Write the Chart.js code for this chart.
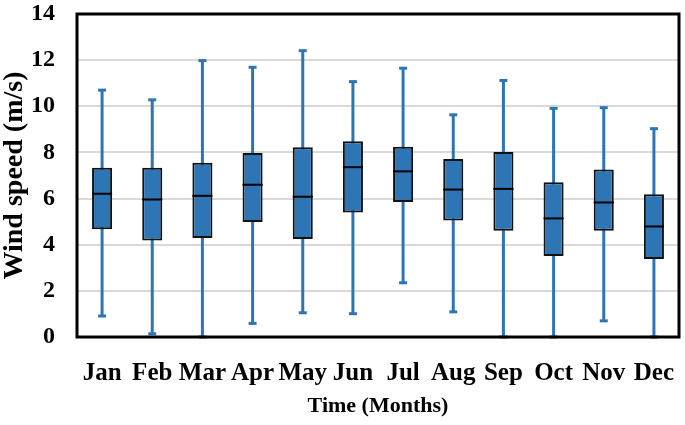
<!DOCTYPE html>
<html>
<head>
<meta charset="utf-8">
<script src="https://cdn.jsdelivr.net/npm/chart.js@4"></script>
<style>
  body { margin: 0; background: #fff; }
  canvas { display: block; }
</style>
</head>
<body>
<canvas id="chart" width="685" height="425"></canvas>
<script>
// monthly wind speed box plot values (m/s)
const months = ["Jan", "Feb", "Mar", "Apr", "May", "Jun", "Jul", "Aug", "Sep", "Oct", "Nov", "Dec"];
const whiskerLow = [0.91, 0.14, 0, 0.59, 1.05, 1.01, 2.35, 1.09, 0, 0, 0.70, 0];
const q1 = [4.67, 4.18, 4.29, 4.98, 4.25, 5.40, 5.85, 5.05, 4.61, 3.51, 4.61, 3.38];
const medians = [6.21, 5.96, 6.12, 6.60, 6.08, 7.36, 7.18, 6.39, 6.42, 5.14, 5.83, 4.79];
const q3 = [7.34, 7.34, 7.55, 7.98, 8.22, 8.48, 8.25, 7.72, 8.02, 6.71, 7.26, 6.19];
const whiskerHigh = [10.70, 10.28, 11.98, 11.69, 12.41, 11.07, 11.65, 9.63, 11.12, 9.91, 9.94, 9.03];
const yTicks = [0, 2, 4, 6, 8, 10, 12, 14];

const blue = "#2e75b6";
const serif = "'Liberation Serif', 'Times New Roman', serif";

// whiskers behind the boxes, medians on top, frame around the plot
const boxPlotExtras = {
    id: "boxPlotExtras",
    beforeDatasetsDraw(chart) {
        const ctx = chart.ctx;
        const y = chart.scales.y;
        const bars = chart.getDatasetMeta(0).data;
        ctx.save();
        ctx.strokeStyle = blue;
        ctx.fillStyle = blue;
        ctx.lineWidth = 3;
        bars.forEach((bar, i) => {
            const top = y.getPixelForValue(whiskerHigh[i]);
            const bottom = y.getPixelForValue(whiskerLow[i]);
            ctx.beginPath();
            ctx.moveTo(bar.x, top);
            ctx.lineTo(bar.x, bottom);
            ctx.stroke();
            ctx.fillRect(bar.x - 4, top - 1.5, 8, 3);
            ctx.fillRect(bar.x - 4, bottom - 1.5, 8, 3);
        });
        ctx.restore();
    },
    afterDatasetsDraw(chart) {
        const ctx = chart.ctx;
        const y = chart.scales.y;
        const bars = chart.getDatasetMeta(0).data;
        ctx.save();
        ctx.strokeStyle = "#000";
        ctx.lineWidth = 2;
        bars.forEach((bar, i) => {
            const my = y.getPixelForValue(medians[i]);
            ctx.beginPath();
            ctx.moveTo(bar.x - bar.width / 2, my);
            ctx.lineTo(bar.x + bar.width / 2, my);
            ctx.stroke();
        });
        ctx.restore();
    },
    afterDraw(chart) {
        const a = chart.chartArea;
        const ctx = chart.ctx;
        ctx.save();
        ctx.strokeStyle = "#000";
        ctx.lineWidth = 3;
        ctx.strokeRect(a.left, a.top, a.right - a.left, a.bottom - a.top);
        ctx.restore();
    }
};

new Chart(document.getElementById("chart"), {
    type: "bar",
    data: {
        labels: months,
        datasets: [{
            data: months.map((m, i) => [q1[i], q3[i]]),
            backgroundColor: blue,
            borderColor: "#111",
            borderWidth: 2,
            borderSkipped: false,
            barPercentage: 0.4,
            categoryPercentage: 1
        }]
    },
    options: {
        responsive: false,
        animation: false,
        layout: { padding: { top: 14, right: 6, left: 0, bottom: 0 } },
        plugins: {
            legend: { display: false },
            tooltip: { enabled: false }
        },
        scales: {
            x: {
                grid: { display: false, drawTicks: false },
                border: { display: false },
                ticks: {
                    color: "#000",
                    padding: 22,
                    maxRotation: 0,
                    autoSkip: false,
                    font: { family: serif, size: 25, weight: "bold" }
                },
                title: {
                    display: true,
                    text: "Time (Months)",
                    color: "#000",
                    padding: { top: 0, bottom: 5 },
                    font: { family: serif, size: 22, weight: "bold" }
                },
                afterFit(scale) {
                    scale.height = 88;
                    scale.paddingLeft = 0;
                    scale.paddingRight = 0;
                }
            },
            y: {
                min: 0,
                max: 14,
                grid: { color: "#d9d9d9", lineWidth: 2, drawTicks: false },
                border: { display: false },
                afterBuildTicks(scale) { scale.ticks = yTicks.map(v => ({ value: v })); },
                ticks: {
                    color: "#000",
                    padding: 22,
                    font: { family: serif, size: 24, weight: "bold" }
                },
                title: {
                    display: true,
                    text: "Wind speed (m/s)",
                    color: "#000",
                    padding: { top: 1, bottom: 0 },
                    font: { family: serif, size: 28, weight: "bold", lineHeight: 1 }
                },
                afterFit(scale) {
                    scale.width = 77;
                    scale.paddingTop = 0;
                    scale.paddingBottom = 0;
                }
            }
        }
    },
    plugins: [boxPlotExtras]
});
</script>
</body>
</html>
